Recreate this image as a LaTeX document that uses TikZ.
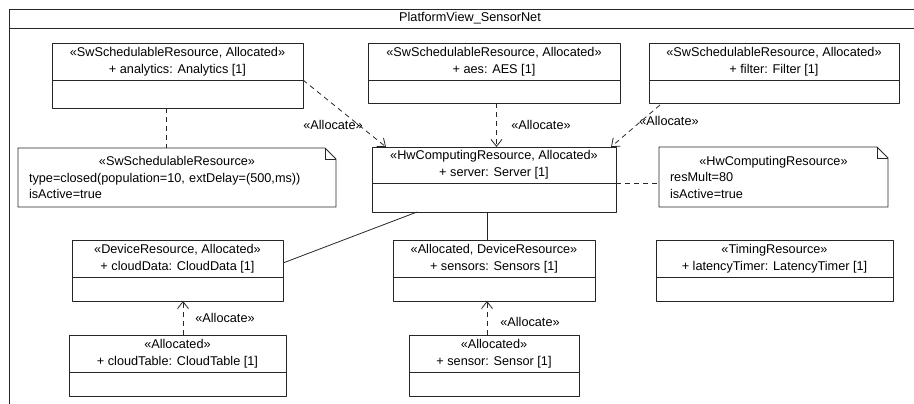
\documentclass[tikz,border=0pt]{standalone}
\usepackage{fontspec}
\setmainfont{Liberation Sans}
\usetikzlibrary{arrows.meta,calc,positioning}
\tikzset{
  part/.style={draw=black!85,line width=0.8pt,anchor=north west,inner sep=0pt,outer sep=0pt,align=center},
  notetxt/.style={anchor=north west,inner xsep=11pt,inner ysep=0pt,outer sep=0pt,align=left,font=\fontsize{12.7}{16.5}\selectfont},
  notebox/.style={draw=black!85,line width=0.8pt,line join=miter},
  dep/.style={draw=black!85,line width=0.8pt,dash pattern=on 5pt off 4pt},
  alloc/.style={dep,-{Straight Barb[length=7pt,width=11pt,line width=0.8pt]}},
  assoc/.style={draw=black!85,line width=0.8pt},
  lbl/.style={inner sep=0pt}
}

\begin{document}
\begin{tikzpicture}[x=1pt,y=-1pt,line join=round,font=\fontsize{12.7}{17}\selectfont]
\useasboundingbox (0,0) rectangle (914,404);
% --- frame
\draw[black!85,line width=0.8pt] (9,404) -- (9,9) -- (914,9) (9,28) -- (914,28);
\node (title) at (470,18.5) {PlatformView\_SensorNet};
% --- software parts
\node[part,minimum width=251pt,minimum height=37pt] (analytics) at (52,43) {«SwSchedulableResource, Allocated»\\+ analytics: Analytics [1]};
\node[part,minimum width=251pt,minimum height=28pt] (analyticsOps) at (analytics.south west) {};
\node[part,minimum width=252pt,minimum height=37pt] (aes) at (368,43) {«SwSchedulableResource, Allocated»\\+ aes: AES [1]};
\node[part,minimum width=252pt,minimum height=23pt] (aesOps) at (aes.south west) {};
\node[part,minimum width=250pt,minimum height=37pt] (filter) at (649,43) {«SwSchedulableResource, Allocated»\\+ filter: Filter [1]};
\node[part,minimum width=250pt,minimum height=23pt] (filterOps) at (filter.south west) {};
% --- hardware parts
\node[part,minimum width=244pt,minimum height=36pt] (server) at (372,147) {«HwComputingResource, Allocated»\\+ server: Server [1]};
\node[part,minimum width=244pt,minimum height=29pt] (serverOps) at (server.south west) {};
\node[part,minimum width=211pt,minimum height=37pt] (cloudData) at (72,240) {«DeviceResource, Allocated»\\+ cloudData: CloudData [1]};
\node[part,minimum width=211pt,minimum height=24pt] (cloudDataOps) at (cloudData.south west) {};
\node[part,minimum width=202pt,minimum height=37pt] (sensors) at (393,240) {«Allocated, DeviceResource»\\+ sensors: Sensors [1]};
\node[part,minimum width=202pt,minimum height=24pt] (sensorsOps) at (sensors.south west) {};
\node[part,minimum width=237pt,minimum height=37pt] (latency) at (656,240) {«TimingResource»\\+ latencyTimer: LatencyTimer [1]};
\node[part,minimum width=237pt,minimum height=24pt] (latencyOps) at (latency.south west) {};
\node[part,minimum width=217pt,minimum height=37pt] (cloudTable) at (69,335) {«Allocated»\\+ cloudTable: CloudTable [1]};
\node[part,minimum width=217pt,minimum height=24pt] (cloudTableOps) at (cloudTable.south west) {};
\node[part,minimum width=170pt,minimum height=37pt] (sensor) at (409,335) {«Allocated»\\+ sensor: Sensor [1]};
\node[part,minimum width=170pt,minimum height=24pt] (sensorOps) at (sensor.south west) {};
% --- notes
\node[notetxt,text width=296pt,minimum height=59pt] (swNote) at (18,148) {\makebox[\linewidth][c]{«SwSchedulableResource»}\\type=closed(population=10, extDelay=(500,ms))\\isActive=true};
\draw[notebox] (swNote.north west) -- ([xshift=-11pt]swNote.north east) -- ([yshift=-11pt]swNote.north east) -- (swNote.south east) -- (swNote.south west) -- cycle;
\draw[notebox] ([xshift=-11pt]swNote.north east) |- ([yshift=-11pt]swNote.north east);
\node[notetxt,text width=207pt,minimum height=60pt] (hwNote) at (659,147) {\makebox[\linewidth][c]{«HwComputingResource»}\\resMult=80\\isActive=true};
\draw[notebox] (hwNote.north west) -- ([xshift=-11pt]hwNote.north east) -- ([yshift=-11pt]hwNote.north east) -- (hwNote.south east) -- (hwNote.south west) -- cycle;
\draw[notebox] ([xshift=-11pt]hwNote.north east) |- ([yshift=-11pt]hwNote.north east);
% --- note links
\draw[dep] ([xshift=-11.5pt]analyticsOps.south) -- ([xshift=-11pt]swNote.north);
\draw[dep] (server.south east) -- (server.south east -| hwNote.west);
% --- associations
\draw[assoc] ([xshift=45pt]serverOps.south west) -- ([yshift=-4.5pt]cloudData.east);
\draw[assoc] ([xshift=-7pt]serverOps.south) -- ([xshift=-7pt]sensors.north);
% --- allocations
\draw[alloc] (analytics.south east) -- ([xshift=14pt]server.north west);
\draw[alloc] ([xshift=2.5pt]aesOps.south) -- ([xshift=2.5pt]server.north);
\draw[alloc] ([xshift=11pt,yshift=-2pt]filterOps.south west) -- ([xshift=-5pt]server.north east);
\draw[alloc] ([xshift=5.5pt]cloudTable.north) -- ([xshift=5.5pt]cloudDataOps.south);
\draw[alloc] ([xshift=-7pt]sensor.north) -- ([xshift=-7pt]sensorsOps.south);
\node[lbl] (lblAnalytics) at (333,125) {«Allocate»};
\node[lbl] (lblAes) at (541,125) {«Allocate»};
\node[lbl] (lblFilter) at (669,121) {«Allocate»};
\node[lbl] (lblCloud) at (225,318) {«Allocate»};
\node[lbl] (lblSensor) at (530,322) {«Allocate»};
\end{tikzpicture}
\end{document}
